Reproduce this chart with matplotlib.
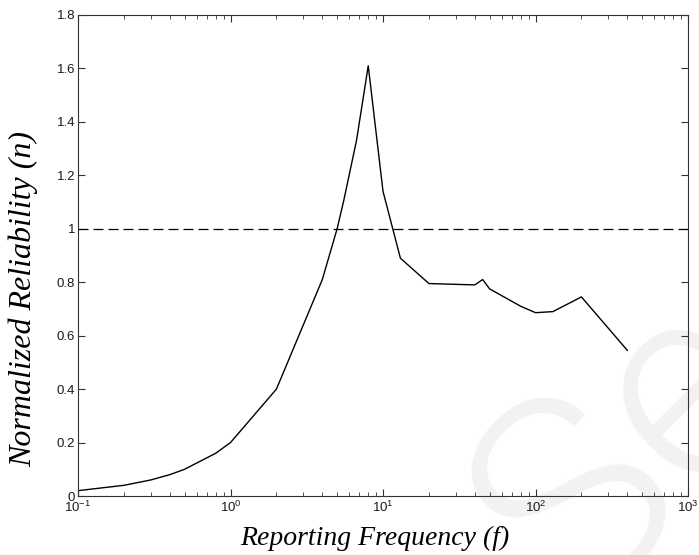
import numpy as np
from matplotlib import pyplot as plt
from matplotlib.ticker import LogLocator, FixedLocator

# reporting frequency and normalized reliability
freq = [0.1, 0.2, 0.3, 0.4, 0.5, 0.8, 1.0, 2.0, 4.0, 5.0, 5.5, 6.7, 8.0,
        10.0, 13.0, 20.0, 40.0, 45.0, 50.0, 80.0, 100.0, 130.0, 200.0, 400.0]
reliability = [0.02, 0.04, 0.06, 0.08, 0.10, 0.16, 0.20, 0.40, 0.81, 1.00, 1.10, 1.33, 1.61,
               1.14, 0.89, 0.795, 0.79, 0.81, 0.775, 0.71, 0.686, 0.69, 0.745, 0.545]
threshold = 1.0
y_ticks = [0, 0.2, 0.4, 0.6, 0.8, 1.0, 1.2, 1.4, 1.6, 1.8]
y_tick_labels = ["0", "0.2", "0.4", "0.6", "0.8", "1", "1.2", "1.4", "1.6", "1.8"]

plt.rcParams['font.family'] = ['Liberation Sans', 'DejaVu Sans']
plt.rcParams['mathtext.fontset'] = 'custom'
plt.rcParams['mathtext.rm'] = 'Liberation Sans'
plt.rcParams['mathtext.it'] = 'Liberation Sans:italic'

fig = plt.figure(figsize=(6.99, 5.55), dpi=100)
ax = fig.add_axes([0.1116, 0.1063, 0.8727, 0.8667])
ax.patch.set_alpha(0)

ax.plot(freq, reliability, color='black', lw=1.0)
ax.axhline(threshold, color='black', lw=0.9, dashes=(8, 4))

ax.set_xscale('log')
ax.set_xlim(0.1, 1000)
ax.set_ylim(0, 1.8)
ax.xaxis.set_major_locator(LogLocator(base=10, numticks=10))
ax.xaxis.set_minor_locator(LogLocator(base=10, subs=np.arange(2, 10), numticks=20))
ax.yaxis.set_major_locator(FixedLocator(y_ticks))
ax.set_yticklabels(y_tick_labels)

ax.tick_params(which='both', direction='in', top=True, right=True, labelsize=9.5,
               colors='#333333', labelcolor='#1a1a1a')
ax.tick_params(which='major', length=5, width=0.8)
ax.tick_params(which='minor', length=3, width=0.6)
ax.tick_params(axis='x', pad=3)
ax.tick_params(axis='y', pad=2)
for sp in ax.spines.values():
    sp.set_linewidth(0.8)
    sp.set_color('#333333')

ax.set_xlabel('Reporting Frequency (f)', family='Liberation Serif', style='italic',
              fontsize=20)
ax.set_ylabel('Normalized Reliability (n)', family='Liberation Serif', style='italic',
              fontsize=23)
ax.xaxis.set_label_coords(0.487, -0.062)
ax.yaxis.set_label_coords(-0.066, 0.41)

# faint watermark behind the plot, lower right
fig.text(0.90, 0.188, 'Se', fontsize=200, color='#f2f2f2', rotation=45,
         family=['Roboto', 'Liberation Sans'], fontweight=300,
         ha='center', va='center', zorder=-1)

fig.savefig('out.png', dpi=100)
